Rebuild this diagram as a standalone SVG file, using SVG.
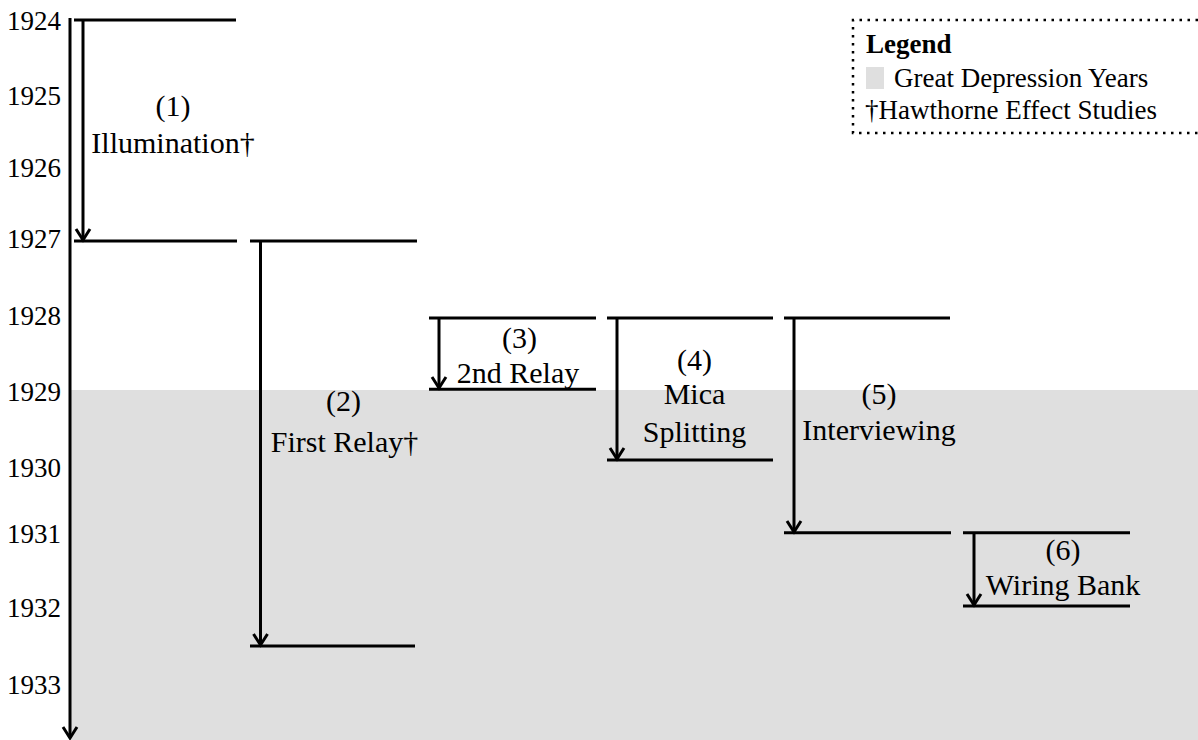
<svg xmlns="http://www.w3.org/2000/svg" width="1198" height="740" viewBox="0 0 1198 740">
<style>
text{font-family:"Liberation Serif","Times New Roman",serif;fill:#000}
.yr{font-size:27px;text-anchor:end}
.lb{font-size:30px;text-anchor:middle}
.lg{font-size:27px}
.bar{stroke:#000;stroke-width:3;fill:none}
.arr{stroke:#000;stroke-width:3;fill:none;marker-end:url(#ah)}
.dot{stroke:#000;stroke-width:2.5;stroke-dasharray:2.5 5.5;fill:none}
</style>
<defs>
<marker id="ah" markerUnits="userSpaceOnUse" viewBox="-14 -9 16 18" refX="0" refY="0" markerWidth="16" markerHeight="18" orient="auto" overflow="visible">
<path d="M-11,-7 L0,0 L-11,7" fill="none" stroke="#000" stroke-width="3"/>
</marker>
</defs>
<rect id="depression" x="70" y="390" width="1128" height="350" fill="#dfdfdf"/>
<g id="axis-labels">
<text class="yr" x="61" y="30">1924</text>
<text class="yr" x="61" y="105">1925</text>
<text class="yr" x="61" y="176.7">1926</text>
<text class="yr" x="61" y="248.3">1927</text>
<text class="yr" x="61" y="325">1928</text>
<text class="yr" x="61" y="401">1929</text>
<text class="yr" x="61" y="476.7">1930</text>
<text class="yr" x="61" y="543.3">1931</text>
<text class="yr" x="61" y="616.7">1932</text>
<text class="yr" x="61" y="694.3">1933</text>
</g>
<g id="study1">
<line class="bar" x1="74" y1="20" x2="236" y2="20"/>
<line class="bar" x1="74" y1="241" x2="237" y2="241"/>
<text class="lb" x="173" y="116">(1)</text>
<text class="lb" x="173" y="153">Illumination†</text>
</g>
<g id="study2">
<line class="bar" x1="250" y1="241" x2="417" y2="241"/>
<line class="bar" x1="250" y1="646" x2="415" y2="646"/>
<text class="lb" x="343.5" y="411">(2)</text>
<text class="lb" x="344.5" y="451.7">First Relay†</text>
</g>
<g id="study3">
<line class="bar" x1="429" y1="318" x2="596" y2="318"/>
<line class="bar" x1="429" y1="389.3" x2="596" y2="389.3"/>
<text class="lb" x="519.5" y="348">(3)</text>
<text class="lb" x="518" y="383">2nd Relay</text>
</g>
<g id="study4">
<line class="bar" x1="607" y1="318" x2="773" y2="318"/>
<line class="bar" x1="607" y1="460" x2="773" y2="460"/>
<text class="lb" x="694.5" y="370">(4)</text>
<text class="lb" x="694.5" y="404">Mica</text>
<text class="lb" x="694.5" y="441.7">Splitting</text>
</g>
<g id="study5">
<line class="bar" x1="784" y1="318" x2="950" y2="318"/>
<line class="bar" x1="784" y1="532.7" x2="951" y2="532.7"/>
<text class="lb" x="879" y="404">(5)</text>
<text class="lb" x="879" y="440">Interviewing</text>
</g>
<g id="study6">
<line class="bar" x1="963" y1="532.7" x2="1130" y2="532.7"/>
<line class="bar" x1="963" y1="606" x2="1130" y2="606"/>
<text class="lb" x="1063" y="560">(6)</text>
<text class="lb" x="1063" y="595">Wiring Bank</text>
</g>
<g id="connectors">
<line class="arr" x1="70" y1="18" x2="70" y2="738"/>
<line class="arr" x1="83" y1="20" x2="83" y2="240"/>
<line class="arr" x1="260.5" y1="241" x2="260.5" y2="645"/>
<line class="arr" x1="439" y1="318" x2="439" y2="388"/>
<line class="arr" x1="617" y1="318" x2="617" y2="459"/>
<line class="arr" x1="794" y1="318" x2="794" y2="532"/>
<line class="arr" x1="974" y1="533" x2="974" y2="605"/>
</g>
<g id="legend">
<path class="dot" d="M1198,20 L853,20 L853,133 L1198,133"/>
<text class="lg" x="866" y="53" font-weight="bold">Legend</text>
<rect x="866" y="67" width="18" height="22" fill="#dfdfdf"/>
<text class="lg" x="894" y="87">Great Depression Years</text>
<text class="lg" x="865" y="119">†Hawthorne Effect Studies</text>
</g>
</svg>
